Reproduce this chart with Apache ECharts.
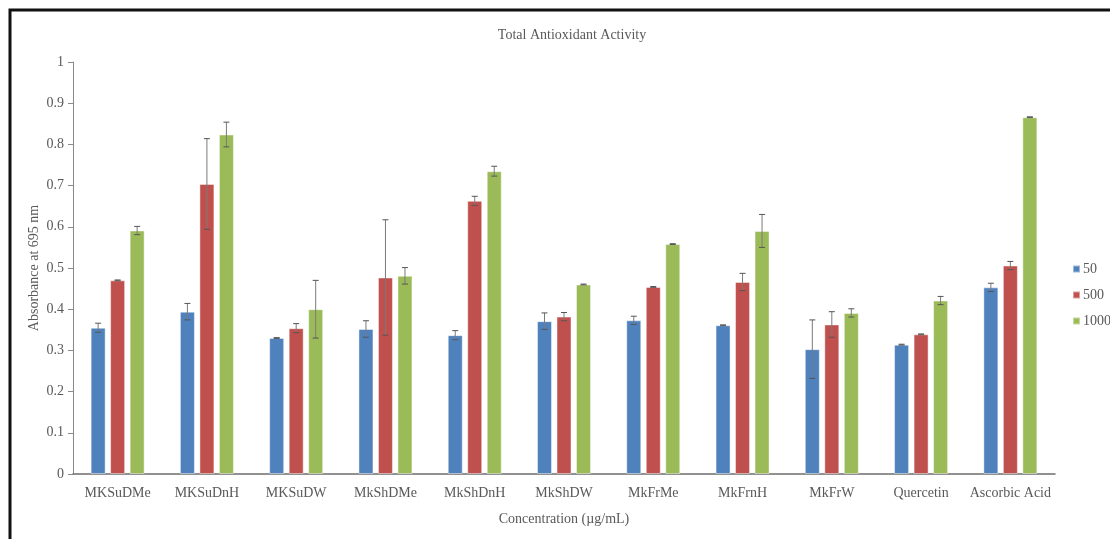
<!DOCTYPE html>
<html>
<head>
<meta charset="utf-8">
<script src="https://cdn.jsdelivr.net/npm/echarts@6/dist/echarts.min.js"></script>
<style>
  html, body { margin: 0; padding: 0; background: #fff; }
  #chart { width: 1110px; height: 539px; }
</style>
</head>
<body>
<div id="chart"></div>
<script>
// Sample names along the x axis
const categories = ['MKSuDMe', 'MKSuDnH', 'MKSuDW', 'MkShDMe', 'MkShDnH', 'MkShDW',
  'MkFrMe', 'MkFrnH', 'MkFrW', 'Quercetin', 'Ascorbic Acid'];

// Concentration groups (µg/mL)
const seriesNames = ['50', '500', '1000'];

// Mean absorbance at 695 nm
const abs50 = [0.355, 0.394, 0.330, 0.352, 0.337, 0.371, 0.373, 0.361, 0.303, 0.314, 0.453];
const abs500 = [0.470, 0.704, 0.354, 0.477, 0.663, 0.382, 0.454, 0.466, 0.363, 0.339, 0.506];
const abs1000 = [0.591, 0.824, 0.400, 0.481, 0.735, 0.460, 0.558, 0.590, 0.391, 0.421, 0.866];

// Standard deviation for each mean
const err50 = [0.011, 0.020, 0.001, 0.020, 0.011, 0.020, 0.010, 0.001, 0.071, 0.001, 0.010];
const err500 = [0.001, 0.110, 0.011, 0.140, 0.011, 0.010, 0.001, 0.021, 0.031, 0.001, 0.010];
const err1000 = [0.010, 0.030, 0.070, 0.020, 0.012, 0.001, 0.001, 0.040, 0.010, 0.010, 0.001];

// Y axis ticks
const yTicks = { min: 0, max: 1, interval: 0.1 };

const colors = ['#4F81BD', '#C0504D', '#9BBB59'];
const means = [abs50, abs500, abs1000];
const errs = [err50, err500, err1000];

const BAR_W = 15;
const BAR_GAP = 0.3; // fraction of bar width

const FONT = '"Liberation Serif", "Times New Roman", serif';
const TXT = '#595959';

const chart = echarts.init(document.getElementById('chart'), null, { renderer: 'canvas' });

const barSeries = seriesNames.map((name, i) => ({
  name: name,
  type: 'bar',
  data: means[i],
  barWidth: BAR_W,
  barGap: (BAR_GAP * 100) + '%',
  itemStyle: { color: colors[i], borderColor: 'rgba(255,255,255,0.45)', borderWidth: 1 },
  z: 2
}));

const errorSeries = seriesNames.map((name, i) => ({
  type: 'custom',
  name: name + ' sd',
  silent: true,
  z: 5,
  data: means[i].map((v, k) => [k, v, errs[i][k]]),
  encode: { x: 0, y: 1 },
  renderItem: function (params, api) {
    const k = api.value(0);
    const v = api.value(1);
    const e = api.value(2);
    const shift = (i - 1) * BAR_W * (1 + BAR_GAP);
    const hi = api.coord([k, v + e]);
    const lo = api.coord([k, v - e]);
    const x = hi[0] + shift;
    const cap = 3;
    const stroke = { stroke: '#555555', lineWidth: 1 };
    return {
      type: 'group',
      children: [
        { type: 'line', shape: { x1: x, y1: hi[1], x2: x, y2: lo[1] }, style: { stroke: '#7a7a7a', lineWidth: 1 } },
        { type: 'line', shape: { x1: x - cap, y1: hi[1], x2: x + cap, y2: hi[1] }, style: stroke },
        { type: 'line', shape: { x1: x - cap, y1: lo[1], x2: x + cap, y2: lo[1] }, style: stroke }
      ]
    };
  }
}));

chart.setOption({
  animation: false,
  backgroundColor: '#ffffff',
  color: colors,
  textStyle: { fontFamily: FONT },
  title: {
    text: 'Total Antioxidant Activity',
    left: 567,
    top: 23,
    textAlign: 'center',
    textStyle: { fontFamily: FONT, fontSize: 14, fontWeight: 'normal', color: TXT }
  },
  legend: {
    data: seriesNames,
    orient: 'vertical',
    left: 1067,
    top: 257,
    itemWidth: 7,
    itemHeight: 7,
    itemGap: 12,
    icon: 'rect',
    textStyle: { fontFamily: FONT, fontSize: 14, color: TXT, padding: [0, 0, 0, -2] }
  },
  grid: { left: 73, right: 55, top: 62, bottom: 65, containLabel: false },
  xAxis: {
    type: 'category',
    data: categories,
    name: 'Concentration (µg/mL)',
    nameLocation: 'middle',
    nameGap: 38,
    nameMoveOverlap: false,
    nameTextStyle: { fontFamily: FONT, fontSize: 14, color: TXT },
    axisLine: { lineStyle: { color: '#6e6e6e', width: 1.5 } },
    axisTick: { show: false },
    axisLabel: { interval: 0, fontFamily: FONT, fontSize: 14, color: TXT, margin: 12 },
    splitLine: { show: false }
  },
  yAxis: {
    type: 'value',
    min: yTicks.min,
    max: yTicks.max,
    interval: yTicks.interval,
    name: 'Absorbance at 695 nm',
    nameLocation: 'middle',
    nameGap: 32,
    nameMoveOverlap: false,
    nameRotate: 90,
    nameTextStyle: { fontFamily: FONT, fontSize: 14, color: TXT },
    axisLine: { show: true, lineStyle: { color: '#8a8a8a', width: 1 } },
    axisTick: { show: true, inside: false, length: 5, lineStyle: { color: '#8a8a8a' } },
    axisLabel: { fontFamily: FONT, fontSize: 14, color: TXT, margin: 9 },
    splitLine: { show: false }
  },
  graphic: [
    {
      type: 'rect',
      shape: { x: 10, y: 10, width: 1200, height: 700 },
      style: { fill: 'none', stroke: '#111111', lineWidth: 3 },
      silent: true,
      z: 100
    }
  ],
  series: barSeries.concat(errorSeries)
});
</script>
</body>
</html>
